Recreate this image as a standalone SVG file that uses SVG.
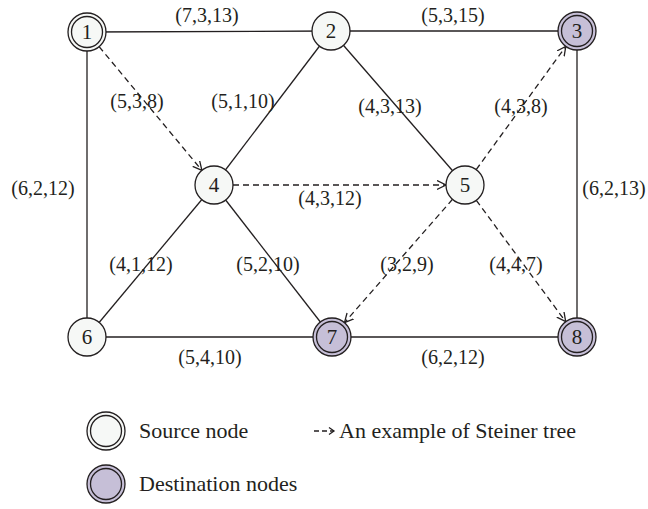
<svg xmlns="http://www.w3.org/2000/svg" width="648" height="509" viewBox="0 0 648 509">
  <style>
    .edge { stroke: #231f20; stroke-width: 1.3; fill: none; }
    .tree { stroke: #231f20; stroke-width: 1.3; fill: none; stroke-dasharray: 6,4; marker-end: url(#chev); }
    .ring { stroke: #231f20; stroke-width: 1.3; }
    .src { fill: #f6f8f6; }
    .dst { fill: #c6bfd7; }
    text { font-family: "Liberation Serif", "DejaVu Serif", serif; fill: #231f20; }
    .lbl { font-size: 20px; text-anchor: middle; }
    .num { font-size: 21px; text-anchor: middle; }
    .leg { font-size: 22px; }
  </style>
  <defs>
    <marker id="chev" markerUnits="userSpaceOnUse" markerWidth="12" markerHeight="12" refX="9" refY="5" orient="auto">
      <path d="M0,0.5 L9,5 L0,9.5" fill="none" stroke="#231f20" stroke-width="1.3"/>
    </marker>
  </defs>

  <rect width="648" height="509" fill="#ffffff"/>

  <!-- connectors -->
  <g id="edges">
    <line class="edge" x1="87" y1="32" x2="331" y2="31"/>
    <line class="edge" x1="331" y1="31" x2="577" y2="31"/>
    <line class="edge" x1="87" y1="32" x2="87" y2="337"/>
    <line class="edge" x1="577" y1="31" x2="577" y2="337"/>
    <line class="edge" x1="87" y1="337" x2="332" y2="337"/>
    <line class="edge" x1="332" y1="337" x2="577" y2="337"/>
    <line class="edge" x1="331" y1="31" x2="214" y2="185"/>
    <line class="edge" x1="331" y1="31" x2="465" y2="185"/>
    <line class="edge" x1="214" y1="185" x2="87" y2="337"/>
    <line class="edge" x1="214" y1="185" x2="332" y2="337"/>

    <!-- Steiner tree (dashed, directed) -->
    <line class="tree" x1="99.1" y1="46.6" x2="201.9" y2="170.4"/>
    <line class="tree" x1="233" y1="185" x2="446" y2="185"/>
    <line class="tree" x1="476.2" y1="169.6" x2="565.8" y2="46.4"/>
    <line class="tree" x1="452.5" y1="199.3" x2="344.5" y2="322.7"/>
    <line class="tree" x1="476.3" y1="200.3" x2="565.7" y2="321.7"/>

    <!-- edge weights -->
    <text class="lbl" x="207" y="22">(7,3,13)</text>
    <text class="lbl" x="453" y="22">(5,3,15)</text>
    <text class="lbl" x="137" y="108">(5,3,8)</text>
    <text class="lbl" x="243" y="108">(5,1,10)</text>
    <text class="lbl" x="390" y="113">(4,3,13)</text>
    <text class="lbl" x="521" y="113">(4,3,8)</text>
    <text class="lbl" x="43" y="195">(6,2,12)</text>
    <text class="lbl" x="614" y="195">(6,2,13)</text>
    <text class="lbl" x="330" y="205">(4,3,12)</text>
    <text class="lbl" x="141" y="271">(4,1,12)</text>
    <text class="lbl" x="268" y="271">(5,2,10)</text>
    <text class="lbl" x="407" y="271">(3,2,9)</text>
    <text class="lbl" x="516" y="271">(4,4,7)</text>
    <text class="lbl" x="210" y="364">(5,4,10)</text>
    <text class="lbl" x="453" y="364">(6,2,12)</text>
  </g>

  <!-- nodes -->
  <g id="n1">
    <circle class="ring src" cx="87" cy="32" r="19"/>
    <circle class="ring src" cx="87" cy="32" r="15.5"/>
    <text class="num" x="87" y="39">1</text>
  </g>
  <g id="n2">
    <circle class="ring src" cx="331" cy="31" r="19"/>
    <text class="num" x="331" y="38">2</text>
  </g>
  <g id="n3">
    <circle class="ring dst" cx="577" cy="31" r="19"/>
    <circle class="ring dst" cx="577" cy="31" r="15.5"/>
    <text class="num" x="577" y="38">3</text>
  </g>
  <g id="n4">
    <circle class="ring src" cx="214" cy="185" r="19"/>
    <text class="num" x="214" y="192">4</text>
  </g>
  <g id="n5">
    <circle class="ring src" cx="465" cy="185" r="19"/>
    <text class="num" x="465" y="192">5</text>
  </g>
  <g id="n6">
    <circle class="ring src" cx="87" cy="337" r="19"/>
    <text class="num" x="87" y="344">6</text>
  </g>
  <g id="n7">
    <circle class="ring dst" cx="332" cy="337" r="19"/>
    <circle class="ring dst" cx="332" cy="337" r="15.5"/>
    <text class="num" x="332" y="344">7</text>
  </g>
  <g id="n8">
    <circle class="ring dst" cx="577" cy="337" r="19"/>
    <circle class="ring dst" cx="577" cy="337" r="15.5"/>
    <text class="num" x="577" y="344">8</text>
  </g>

  <!-- legend -->
  <g id="legend">
    <g id="legend-source">
      <circle class="ring src" cx="106" cy="431" r="19"/>
      <circle class="ring src" cx="106" cy="431" r="15.5"/>
      <text class="leg" x="139" y="438">Source node</text>
    </g>
    <g id="legend-destination">
      <circle class="ring dst" cx="106" cy="484" r="19"/>
      <circle class="ring dst" cx="106" cy="484" r="15.5"/>
      <text class="leg" x="139" y="491">Destination nodes</text>
    </g>
    <g id="legend-tree">
      <line class="edge" x1="314" y1="431" x2="334" y2="431" stroke-dasharray="5,3"/>
      <path d="M329,427.5 L334,431 L329,434.5" class="edge"/>
      <text class="leg" x="339" y="438">An example of Steiner tree</text>
    </g>
  </g>
</svg>
